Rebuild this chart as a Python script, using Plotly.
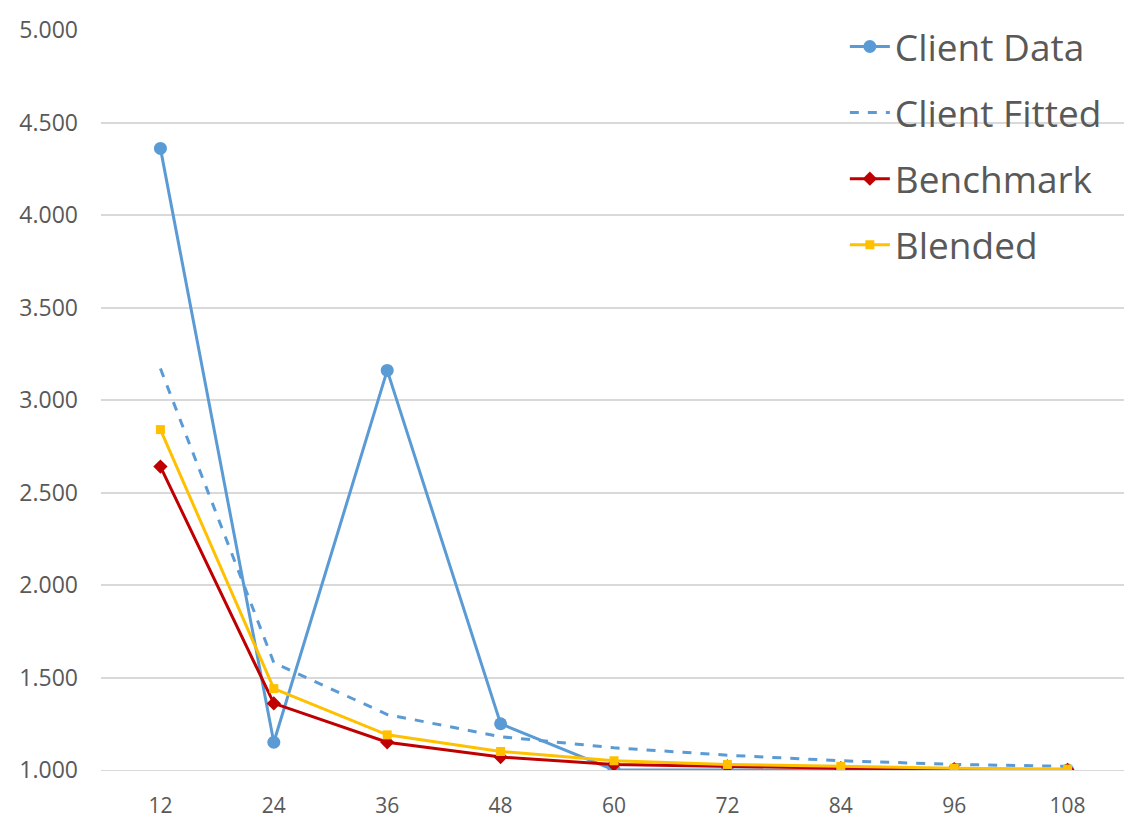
import plotly.graph_objects as go

months = [12, 24, 36, 48, 60, 72, 84, 96, 108]
x_labels = [str(m) for m in months]
client_data = [4.36, 1.15, 3.16, 1.25, 1.00, 1.00, 1.00, 1.00, 1.00]
client_fitted = [3.17, 1.58, 1.30, 1.18, 1.12, 1.08, 1.05, 1.03, 1.02]
benchmark = [2.64, 1.36, 1.15, 1.07, 1.03, 1.02, 1.01, 1.005, 1.00]
blended = [2.84, 1.44, 1.19, 1.10, 1.05, 1.03, 1.02, 1.01, 1.005]

BLUE = "#5B9BD5"
RED = "#C00000"
GOLD = "#FFC000"
FONT = "'Open Sans', Lato, sans-serif"

# page body has an 8px margin; figure sized so it fills the window
W, H = 1124, 819
ML, MR, MT, MB = 93, 5, 22, 57

fig = go.Figure()
fig.add_trace(go.Scatter(x=x_labels, y=client_data, name="Client Data", mode="lines+markers",
                         line=dict(color=BLUE, width=3), marker=dict(symbol="circle", size=13, color=BLUE),
                         legendgroup="a"))
fig.add_trace(go.Scatter(x=x_labels, y=client_fitted, name="Client Fitted", mode="lines",
                         line=dict(color=BLUE, width=3, dash="dash"), legendgroup="b"))
fig.add_trace(go.Scatter(x=x_labels, y=benchmark, name="Benchmark", mode="lines+markers",
                         line=dict(color=RED, width=3), marker=dict(symbol="diamond", size=11, color=RED),
                         legendgroup="c"))
fig.add_trace(go.Scatter(x=x_labels, y=blended, name="Blended", mode="lines+markers",
                         line=dict(color=GOLD, width=3), marker=dict(symbol="square", size=9, color=GOLD),
                         legendgroup="d"))

fig.update_layout(
    width=W, height=H,
    margin=dict(l=ML, r=MR, t=MT, b=MB),
    paper_bgcolor="white", plot_bgcolor="white",
    font=dict(family=FONT, color="#595959", size=20),
    showlegend=True,
    legend=dict(x=0.725, y=1.019, xanchor="left", yanchor="top",
                font=dict(size=37, color="#595959", family=FONT),
                bgcolor="rgba(255,255,255,0)", tracegroupgap=15, traceorder="grouped",
                itemwidth=40),
    xaxis=dict(type="category", showgrid=False, showline=True, linecolor="#D9D9D9",
               ticks="", tickfont=dict(size=21, color="#595959"), zeroline=False,
               ticklabelstandoff=17),
    yaxis=dict(range=[1.0, 5.0], dtick=0.5, tick0=1.0, tickformat=".3f",
               showgrid=True, gridcolor="#D9D9D9", gridwidth=1.5, zeroline=False,
               ticks="", tickfont=dict(size=23, color="#595959"), ticklabelstandoff=22),
)

fig.write_html("out.html")
